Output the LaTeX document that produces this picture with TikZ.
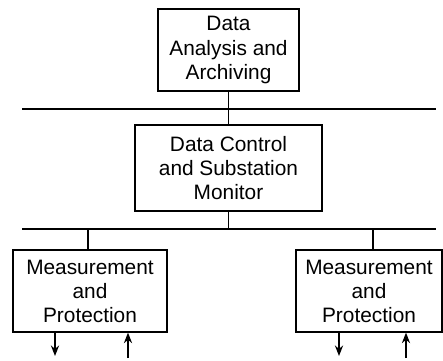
\documentclass[tikz,border=0pt]{standalone}
\usepackage{fontspec}
\setmainfont{Liberation Sans}
\usetikzlibrary{arrows.meta}

\begin{document}
\begin{tikzpicture}[
    x=0.03cm, y=-0.03cm,
    >={Stealth[length=9pt,width=7pt]},
    line width=1.1pt,
    block/.style={
        draw,
        rectangle,
        inner sep=0pt,
        align=center,
        font=\fontsize{17.8}{20.5}\selectfont
    },
    bus/.style={line width=1.6pt}
]
    \useasboundingbox (0,0) rectangle (443,361);

    % Nodes
    \node[block, minimum width=141*0.03cm, minimum height=82*0.03cm] (archive) at (228.5,50)
    {Data\\Analysis and\\Archiving};

    \node[block, minimum width=187*0.03cm, minimum height=86*0.03cm] (control) at (228.5,168)
    {Data Control\\and Substation\\Monitor};

    \node[block, minimum width=154*0.03cm, minimum height=82*0.03cm] (meas1) at (90,291)
    {Measurement\\and\\Protection};

    \node[block, minimum width=146*0.03cm, minimum height=82*0.03cm] (meas2) at (369,291)
    {Measurement\\and\\Protection};

    % Buses
    \coordinate (busAl) at (22,109);
    \coordinate (busAr) at (436,109);
    \coordinate (busBl) at (22,229);
    \coordinate (busBr) at (436,229);
    \draw[bus] (busAl) -- (busAr);
    \draw[bus] (busBl) -- (busBr);

    % Links
    \coordinate (tap1) at (88,229);
    \coordinate (tap2) at (373,229);
    \draw (archive) -- (control);
    \draw (control.south) -- (control.south |- busBl);
    \draw (tap1) -- (tap1 |- meas1.north);
    \draw (tap2) -- (tap2 |- meas2.north);

    % Arrows
    \coordinate (out1) at (55,356);
    \coordinate (in1) at (128,358);
    \coordinate (out2) at (339,356);
    \coordinate (in2) at (406,358);
    \draw[->] (meas1.south -| out1) -- (out1);
    \draw[->] (in1) -- (meas1.south -| in1);
    \draw[->] (meas2.south -| out2) -- (out2);
    \draw[->] (in2) -- (meas2.south -| in2);

\end{tikzpicture}
\end{document}
